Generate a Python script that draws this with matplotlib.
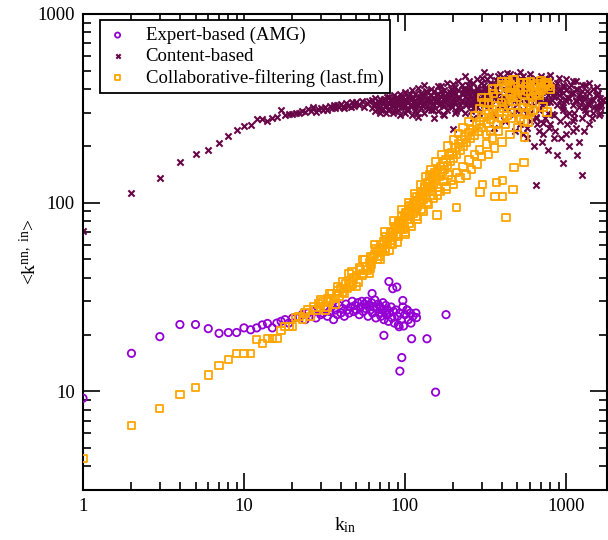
import matplotlib

matplotlib.use("Agg")
import matplotlib.pyplot as plt
from matplotlib.ticker import FuncFormatter, LogLocator, NullFormatter

plt.rcParams["font.family"] = ["Liberation Serif", "DejaVu Serif"]
plt.rcParams["mathtext.fontset"] = "custom"
plt.rcParams["mathtext.rm"] = "Liberation Serif"
plt.rcParams["mathtext.it"] = "Liberation Serif:italic"

VIOLET = "#9400d3"
MAROON = "#670748"
ORANGE = "#ffa500"

# Expert-based (AMG)
expert_k = [
    1, 2, 3, 4, 5, 6, 7, 8, 9, 10, 11, 12, 13, 14, 15, 16, 17, 18, 19, 20, 21,
    22, 23, 24, 25, 26, 27, 28, 29, 30, 31, 32, 33, 34, 35, 36, 37, 38, 39, 40,
    41, 42, 43, 44, 45, 46, 47, 48, 49, 50, 51, 52, 53, 54, 55, 56, 57, 58, 59,
    60, 61, 62, 63, 64, 65, 66, 67, 68, 69, 70, 71, 72, 73, 74, 75, 76, 77, 78,
    79, 80, 82, 83, 85, 86, 88, 90, 91, 93, 95, 97, 100, 103, 105, 108, 112, 117,
    62.5, 79.5, 84, 89, 97, 180, 118, 103, 74, 110, 137, 95.6, 93, 155, 109, 98, 92,
]
expert_knn = [
    9.2, 15.9, 19.5, 22.6, 22.6, 21.5, 20.3, 20.5, 20.5, 21.7, 21.2, 21.7, 22.5,
    22.9, 21.7, 23, 23.5, 24, 23, 24.4, 24.7,
    24.8, 25.5, 24, 26, 25, 26.5, 24.5, 27, 25.5, 26, 27.5, 25, 26.5, 28, 24, 27,
    25.5, 28.5, 26, 27.5, 25, 29, 27, 26, 28, 30, 26.5, 28.5, 27, 29.5, 25.5, 28,
    30, 26.5, 29, 27.5, 30, 25, 28.5, 27, 29.5, 26, 28, 30.5, 24.5, 27.5, 29, 26,
    28, 25, 27, 29.5, 24, 26.5, 28.5, 25.5, 27, 23.5, 26, 28, 24.5, 26.5, 23, 27,
    25, 22.5, 26, 24, 28, 25.5, 27, 24, 26, 25, 26,
    33, 38.2, 35, 35.7, 30.3, 25.5, 24.6, 27, 19.8, 19, 19, 15.1, 12.8, 9.9, 23,
    22.2, 22,
]

# Content-based
content_k = [
    1, 2, 3, 4, 5, 6, 7, 8, 9, 10, 11, 12, 13, 14, 15, 16, 17, 18, 19, 20, 21,
    22, 23, 24, 25, 26, 27, 28, 29, 30, 31, 32, 33, 34, 35, 36, 37, 38, 39, 40,
    41, 42, 43, 44, 45, 46, 47, 48, 49, 50, 52, 54, 56, 58, 60,
    62, 62, 65, 65, 65, 68, 68, 70, 70, 70, 73, 73, 76, 76, 76, 80, 80, 80, 83,
    83, 86, 86, 86, 90, 90, 90, 93, 93, 93, 97, 97, 97, 100, 100, 100, 100,
    105, 105, 105, 110, 110, 110, 110, 115, 115, 115, 120, 120, 120, 120,
    126, 126, 126, 132, 132, 132, 132, 138, 138, 138, 145, 145, 145, 145,
    152, 152, 152, 152, 160, 160, 160, 160, 167, 167, 167, 175, 175, 175, 175,
    183, 183, 183, 183, 192, 192, 192, 199, 199, 199, 205, 205, 205, 205,
    215, 215, 215, 215, 225, 225, 225, 235, 235, 235, 235, 245, 245, 245,
    255, 255, 255, 265, 265, 265, 265, 280, 280, 280, 280, 295, 295, 295,
    310, 310, 310, 310, 325, 325, 325, 340, 340, 340, 340, 355, 355, 355,
    370, 370, 370, 390, 390, 390, 390, 410, 410, 410, 430, 430, 430, 430,
    450, 450, 450, 470, 470, 470, 470, 497, 497, 497, 497, 520, 520, 520, 520,
    545, 545, 545, 545, 570, 570, 570, 570, 570, 600, 600, 600, 600,
    630, 630, 630, 630, 652, 652, 652, 652, 680, 680, 680, 680,
    710, 710, 710, 710, 740, 740, 740, 740, 770, 770, 770, 770,
    800, 800, 800, 800, 840, 840, 840, 840, 880, 880, 880, 880, 920, 920, 920,
    957, 957, 957, 957, 1000, 1000, 1000, 1000, 1050, 1050, 1050, 1050,
    1100, 1100, 1100, 1150, 1150, 1150, 1150, 1200, 1200, 1200,
    1256, 1256, 1256, 1256, 1320, 1320, 1320, 1400, 1400, 1400,
    1480, 1480, 1480, 1560, 1560, 1626, 1626, 1626,
    64, 67, 72, 75, 78, 82, 85, 88, 92, 95, 99, 102, 107, 112, 117, 122, 128,
    135, 142, 148, 155, 163, 170, 178, 187, 195, 202, 210, 220, 230, 240, 250,
    260, 270, 285, 300, 315, 330, 345, 360, 380, 400, 420, 440, 460, 480, 510,
    530, 555, 580, 610, 640, 670, 700, 730, 760, 790, 820, 860, 900, 940, 980,
    1030, 1080, 1130, 1180, 1230, 1290, 1350, 1420, 1500, 1580, 1650, 1700,
    360, 420, 480, 540, 600, 660, 720, 780, 850, 930, 1020, 1100, 1180, 1300,
    1450, 1600,
    200, 250, 300, 380, 450, 520, 600, 700, 800, 900, 1000, 1100, 1250, 1400,
    1550,
    275, 335, 395, 465, 505, 560, 620, 690, 750, 830, 910, 990, 1070, 1160,
    1270, 1380, 1530, 1680,
    290, 350, 415, 490, 575, 650, 725, 815, 960, 1120, 1340, 1620,
    71, 74, 79, 84, 89, 94, 98, 103, 108, 113, 118, 124, 130, 136, 143, 150,
    157, 165, 172, 180, 190, 198, 208, 218, 228, 238, 248, 258, 268, 278,
    69, 77, 87, 96, 106, 116, 127, 140, 153, 168, 185, 203, 222, 243, 262, 283,
    305,
]
content_knn = [
    71, 112, 135, 165, 182, 191, 208, 226, 243, 255, 259, 278, 278, 272, 281,
    286, 310, 290, 294, 296, 300, 297, 305, 302, 312, 306, 322, 304, 313, 316,
    309, 320, 311, 325, 318, 330, 316, 328, 320, 333, 322, 317, 338, 326, 331,
    321, 341, 327, 335, 340, 329, 346, 322, 338, 344,
    352, 318, 336, 305, 360, 328, 345, 322, 298, 356, 340, 312, 350, 330, 300,
    362, 335, 315, 325, 348, 340, 372, 305, 355, 330, 310, 345, 378, 292,
    362, 320, 340, 350, 330, 385, 300,
    368, 340, 315, 355, 395, 325, 290, 375, 345, 310, 362, 405, 330, 285,
    350, 380, 318, 368, 340, 300, 420, 385, 355, 325, 372, 345, 310, 400,
    390, 360, 330, 280, 378, 350, 415, 305, 416, 365, 340, 395, 360, 325, 290,
    380, 350, 430, 310, 400, 370, 335, 247, 385, 355, 410, 375, 340, 300,
    395, 360, 440, 320, 420, 380, 345, 400, 365, 470, 300, 385, 355, 420,
    410, 370, 330, 430, 390, 350, 280, 405, 370, 455, 320, 390, 350, 430,
    420, 493, 375, 330, 400, 360, 450, 430, 385, 340, 470, 410, 370, 300,
    445, 395, 350, 420, 380, 480, 330, 400, 360, 455, 487, 420, 375, 320,
    440, 395, 350, 410, 370, 465, 290, 476, 430, 385, 335, 450, 400, 355, 260,
    420, 380, 310, 470, 440, 395, 340, 250, 220, 410, 365, 300, 460,
    430, 380, 330, 200, 124, 390, 280, 450, 415, 360, 310, 240,
    440, 385, 330, 210, 400, 350, 280, 460, 420, 370, 300, 190,
    395, 340, 260, 440, 410, 365, 290, 220, 380, 330, 430, 180, 400, 350, 270,
    163, 380, 320, 420, 395, 345, 290, 230, 410, 360, 300, 200,
    380, 330, 270, 400, 350, 250, 440, 370, 320, 210,
    141, 390, 340, 280, 360, 310, 420, 380, 330, 260,
    350, 300, 400, 370, 320, 340, 300, 360,
    330, 315, 345, 325, 310, 355, 330, 318, 340, 360, 325, 345, 330, 360, 335,
    350, 330, 345, 360, 335, 350, 330, 375, 345, 360, 320, 390, 350, 330, 375,
    340, 395, 360, 320, 385, 345, 400, 330, 380, 420, 355, 440, 340, 395, 430,
    380, 420, 370, 440, 380, 420, 355, 440, 370, 420, 340, 400, 350, 420, 370,
    330, 410, 360, 420, 300, 400, 360, 320, 390, 350, 320, 380, 330, 350,
    250, 270, 240, 230, 270, 260, 230, 250, 240, 220, 260, 240, 180, 240, 280,
    290,
    425, 440, 460, 470, 480, 490, 480, 470, 475, 460, 450, 440, 420, 430, 410,
    350, 365, 340, 395, 360, 410, 385, 350, 395, 370, 390, 355, 380, 345,
    365, 335, 370, 350,
    300, 290, 275, 310, 300, 285, 265, 295, 310, 280, 300, 320,
    310, 355, 340, 300, 365, 320, 350, 310, 375, 340, 300, 365, 325, 390, 350,
    310, 370, 335, 295, 360, 385, 340, 305, 365, 400, 330, 355, 305, 375, 340,
    340, 365, 350, 335, 358, 322, 372, 312, 345, 390, 330, 360, 315, 380, 335,
    400, 370,
]

# Collaborative-filtering (last.fm)
collab_k = [
    1, 2, 3, 4, 5, 6, 7, 8, 9, 10, 11, 12, 13, 14, 15, 16, 17, 18, 19, 20, 21,
    22, 23, 24, 25, 26, 27, 28, 29, 30, 31, 32, 33, 34, 35, 36, 37, 38, 39, 40,
    42, 43, 44, 45, 46, 48, 50, 51, 53, 55, 57, 58, 60, 62, 63, 65, 67, 68, 70,
    72, 74, 75, 77, 78, 80, 82, 84, 85, 87, 88, 90, 92, 93, 95, 97, 99, 100, 102,
    104, 106, 108, 110, 112, 114, 116, 118, 120, 123, 125, 128, 130, 133, 135,
    138, 140, 143, 145, 148, 150, 153, 156, 160, 163, 166, 170, 173, 176, 180,
    184, 188, 192, 196, 200, 205, 210, 215, 220, 225, 230, 236, 242, 248, 255,
    262, 270, 278, 285, 293, 300, 310, 320, 330, 340, 350, 360, 372, 385, 398,
    410, 425, 440, 455, 470, 485, 500, 520, 540, 560, 580, 600, 630, 660, 700,
    740, 780,
    160, 180, 200, 220, 240, 260, 280, 300, 330, 360, 400, 450, 500, 550, 600,
    143, 158, 210, 292, 362, 405, 469, 372, 405, 424, 548, 476, 304,
    330, 450, 570, 762, 720, 762, 630, 580, 555, 400, 480, 520, 650,
    45, 55, 65, 75, 85, 95, 105, 115, 125, 135, 145, 155, 170, 185, 200, 215,
    230, 250, 270, 290, 310, 330, 355, 380, 410, 440, 470, 300, 350, 420,
    50, 60, 70, 80, 90, 100, 110, 120, 130, 140, 150, 165, 180, 195, 210, 230,
    250, 270, 290, 320, 350, 380, 420, 460, 500, 540, 580, 620, 660, 700,
    450, 480, 510, 540, 600, 650, 700, 750, 800, 680, 620, 560, 520, 490, 460,
    430, 400, 370, 340, 320,
    30, 34, 38, 41, 47, 52, 56, 61, 66, 71, 76, 81, 86, 91, 96, 101, 107, 113,
    119, 126, 132, 139, 146, 154,
    33, 37, 41, 47, 54, 61, 69, 76, 83, 91, 98, 107, 117, 127, 137, 148, 160,
    172, 185,
]
collab_knn = [
    4.4, 6.6, 8.1, 9.6, 10.5, 12.2, 13.7, 14.8, 15.9, 15.9, 15.9, 18.8, 17.9, 19,
    19, 19, 21, 22, 22, 22, 24.6,
    25, 24, 26, 27, 25, 28, 27, 29, 28, 30, 27, 31, 30, 33, 31, 29, 34, 32, 35,
    33, 37, 35, 38, 36, 40, 41, 38, 44, 42, 46, 44, 48, 47, 51, 53, 50, 56, 55,
    58, 62, 57, 64, 60, 66, 63, 70, 67, 73, 68, 75, 78, 72, 80, 76, 84, 70, 88,
    82, 90, 85, 95, 88, 98, 92, 102, 96, 108, 100, 112, 104, 118, 110,
    122, 115, 128, 120, 135, 125, 140, 132, 148, 138, 155, 145, 162, 150, 170,
    158, 178, 165, 185, 172, 195, 180, 205, 190, 215, 198, 225, 208, 235, 218,
    245, 228, 258, 238, 270, 250, 282, 262, 295, 275, 310, 290, 325, 300, 340,
    315, 355, 330, 370, 345, 385, 360, 400, 375, 410, 390, 420, 400, 425, 410,
    430, 415,
    110, 118, 125, 135, 140, 150, 160, 175, 180, 195, 210, 230, 250, 270, 300,
    141, 86, 94, 114, 108, 108, 117, 128, 131, 83.5, 163, 154, 124.5,
    338, 420, 431, 431, 322, 303, 307, 268, 223, 440, 450, 435, 380,
    42, 50, 60, 70, 80, 92, 100, 112, 125, 138, 150, 165, 180, 200, 215, 232,
    250, 270, 290, 315, 340, 360, 380, 400, 420, 440, 450, 360, 400, 410,
    36, 42, 50, 56, 62, 68, 75, 82, 90, 98, 105, 115, 122, 132, 145, 155,
    168, 180, 190, 205, 220, 240, 260, 280, 300, 320, 340, 360, 380, 395,
    380, 410, 395, 430, 440, 415, 445, 420, 400, 370, 340, 300, 280, 330, 300,
    290, 280, 260, 240, 230,
    30.5, 33, 36, 38, 43, 45, 50, 52, 57, 60, 66, 69, 75, 78, 85, 88, 96, 100,
    108, 115, 122, 128, 138, 145,
    28, 31, 33.5, 37, 41, 45, 52, 55, 60, 66, 72, 78, 85, 92, 100, 110, 120,
    130, 140,
]


def plain_log_label(value, pos):
    return f"{value:g}"


def style_axes(ax):
    ax.set_xscale("log")
    ax.set_yscale("log")
    ax.set_xlim(1, 1800)
    ax.set_ylim(3, 1000)
    for axis in [ax.xaxis, ax.yaxis]:
        axis.set_major_locator(LogLocator(base=10))
        axis.set_minor_locator(LogLocator(base=10, subs=range(2, 10)))
        axis.set_major_formatter(FuncFormatter(plain_log_label))
        axis.set_minor_formatter(NullFormatter())
    ax.tick_params(which="both", direction="in", top=True, right=True,
                   width=1.2, labelsize=13.5, pad=6)
    ax.tick_params(which="major", length=12)
    ax.tick_params(which="minor", length=6)
    for spine in ax.spines.values():
        spine.set_linewidth(1.5)


fig = plt.figure(figsize=(6.08, 5.4), dpi=100)
ax = fig.add_axes([83 / 608, 50 / 540, 524 / 608, 476 / 540])

ax.scatter(expert_k, expert_knn, s=28, marker="o", facecolors="none",
           edgecolors=VIOLET, linewidths=1.3, label="Expert-based (AMG)",
           zorder=3)
ax.scatter(content_k, content_knn, s=20, marker="x", color=MAROON,
           linewidths=1.5, label="Content-based", zorder=2)
ax.scatter(collab_k, collab_knn, s=28, marker="s", facecolors="none",
           edgecolors=ORANGE, linewidths=1.3,
           label="Collaborative-filtering (last.fm)", zorder=4)

style_axes(ax)
ax.set_xlabel(r"k$_{\mathrm{in}}$", fontsize=14, labelpad=0)
ax.set_ylabel(r"<k$^{\mathrm{nn,\ in}}$>", fontsize=14)
ax.yaxis.set_label_coords(-0.082, 0.5)

leg = ax.legend(loc="upper left", bbox_to_anchor=(0.032, 0.987),
                borderaxespad=0, fontsize=13.5, fancybox=False,
                edgecolor="black", framealpha=1, markerscale=0.7,
                scatterpoints=1, handlelength=1.2, handletextpad=0.9,
                labelspacing=0.2, borderpad=0.35)
leg.get_frame().set_linewidth(1.3)

fig.savefig("out.png", dpi=100)
